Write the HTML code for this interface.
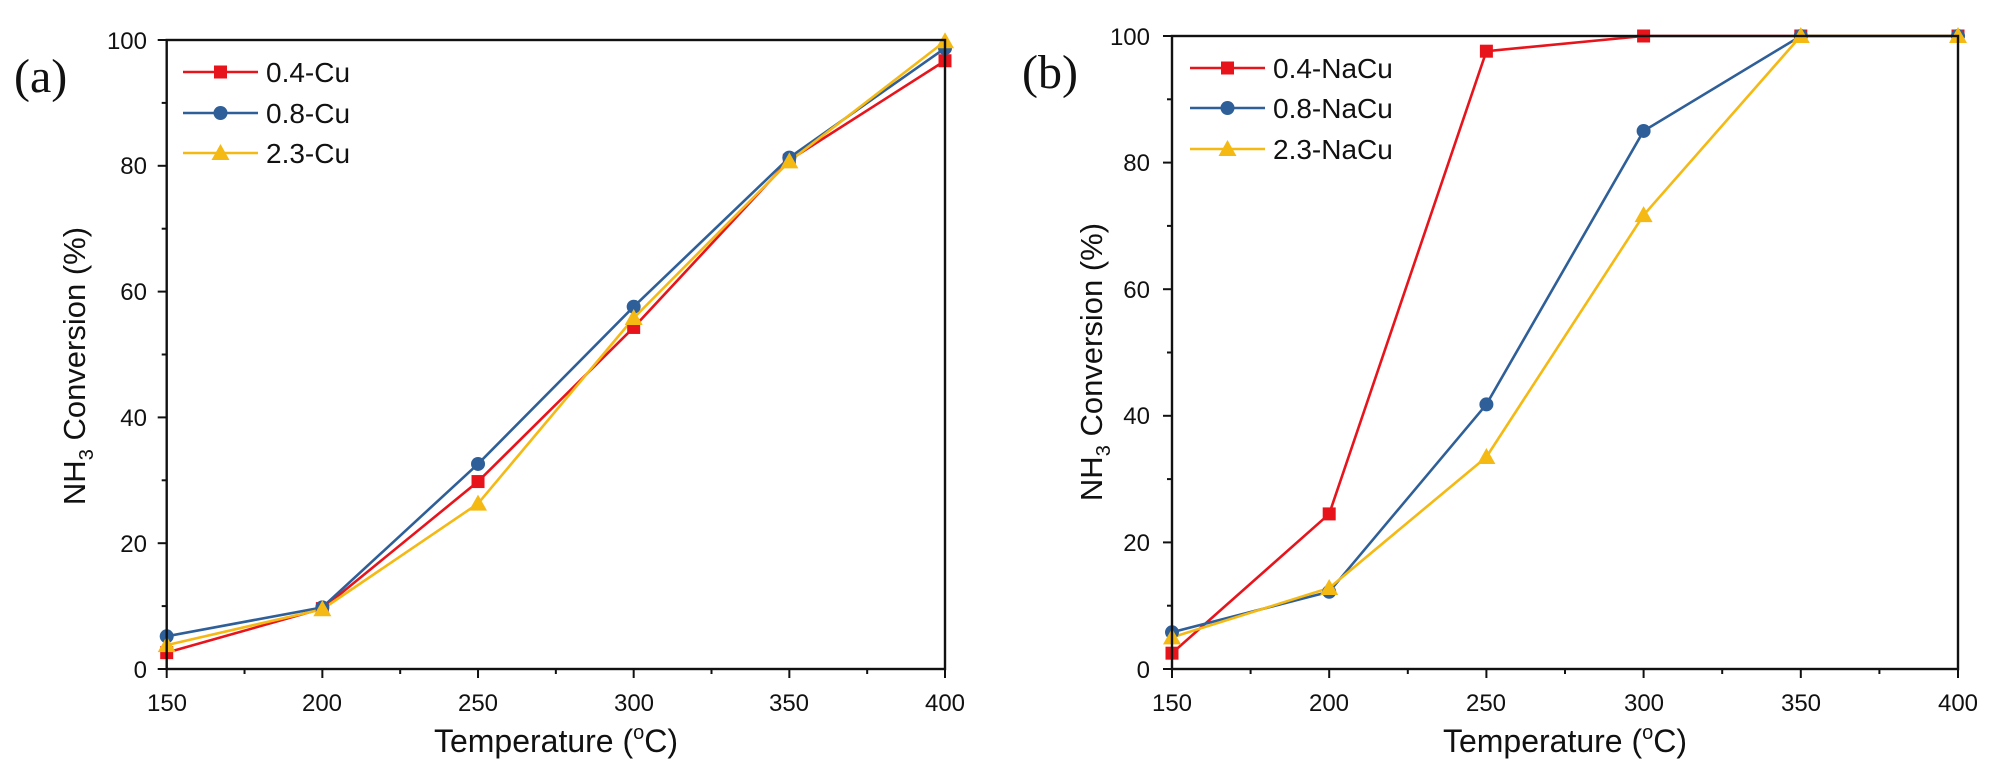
<!DOCTYPE html>
<html><head><meta charset="utf-8">
<style>
html,body{margin:0;padding:0;background:#fff;}
svg{display:block;}
text{font-family:"Liberation Sans",Arial,sans-serif;fill:#111;}
</style></head>
<body>
<svg id="s" width="2000" height="781" viewBox="0 0 2000 781" xmlns="http://www.w3.org/2000/svg">
<rect width="2000" height="781" fill="#fff"/>
<text x="14" y="92" style="font-family:'Liberation Serif',serif;font-size:48px">(a)</text>
<text x="1022" y="88" style="font-family:'Liberation Serif',serif;font-size:48px">(b)</text>

<g font-size="24" text-anchor="end">
<text x="147" y="49">100</text><text x="147" y="174">80</text><text x="147" y="300">60</text>
<text x="147" y="426">40</text><text x="147" y="552">20</text><text x="147" y="678">0</text>
<text x="1150" y="45">100</text><text x="1150" y="171">80</text><text x="1150" y="298">60</text>
<text x="1150" y="424">40</text><text x="1150" y="551">20</text><text x="1150" y="678">0</text>
</g>
<g font-size="24" text-anchor="middle">
<text x="167" y="711">150</text><text x="322" y="711">200</text><text x="478" y="711">250</text>
<text x="634" y="711">300</text><text x="789" y="711">350</text><text x="945" y="711">400</text>
<text x="1172" y="711">150</text><text x="1329" y="711">200</text><text x="1486" y="711">250</text>
<text x="1644" y="711">300</text><text x="1801" y="711">350</text><text x="1958" y="711">400</text>
</g>
<g font-size="32" text-anchor="middle">
<text x="556" y="752">Temperature (<tspan font-size="20" dy="-13">o</tspan><tspan dy="13">C)</tspan></text>
<text x="1565" y="752">Temperature (<tspan font-size="20" dy="-13">o</tspan><tspan dy="13">C)</tspan></text>
</g>
<g font-size="31" text-anchor="middle">
<text transform="translate(85,366) rotate(-90)">NH<tspan font-size="20" dy="8">3</tspan><tspan dy="-8"> Conversion (%)</tspan></text>
<text transform="translate(1102,362) rotate(-90)">NH<tspan font-size="20" dy="8">3</tspan><tspan dy="-8"> Conversion (%)</tspan></text>
</g>
<g font-size="28">
<text x="266" y="82">0.4-Cu</text><text x="266" y="123">0.8-Cu</text><text x="266" y="163">2.3-Cu</text>
<text x="1273" y="78">0.4-NaCu</text><text x="1273" y="118">0.8-NaCu</text><text x="1273" y="159">2.3-NaCu</text>
</g>
<g id="g"></g>
</svg>
<script>
var g=document.getElementById('g'),NS='http://www.w3.org/2000/svg';
function el(t,a){var e=document.createElementNS(NS,t);for(var k in a)e.setAttribute(k,a[k]);g.appendChild(e);return e;}
var C=['#e8141c','#2e5f98','#f5b914'];
function marker(i,x,y){
 if(i==0)el('rect',{x:x-6.5,y:y-6.5,width:13,height:13,fill:C[0]});
 else if(i==1)el('circle',{cx:x,cy:y,r:7,fill:C[1]});
 else el('polygon',{points:(x)+','+(y-9)+' '+(x-9)+','+(y+7)+' '+(x+9)+','+(y+7),fill:C[2]});
}
function panel(L,R,T,B,data,legY,lx1,lx2){
 var X=function(v){return L+(v-150)/250*(R-L)},Y=function(v){return B-v/100*(B-T)};
 var xs=[150,200,250,300,350,400];
 for(var i=0;i<3;i++){
  var pts=xs.map(function(x,j){return X(x)+','+Y(data[i][j])}).join(' ');
  el('polyline',{points:pts,fill:'none',stroke:C[i],'stroke-width':2.6});
 }
 for(var i=0;i<3;i++)xs.forEach(function(x,j){marker(i,X(x),Y(data[i][j]));});
 el('rect',{x:L,y:T,width:R-L,height:B-T,fill:'none',stroke:'#111','stroke-width':2.4});
 for(var v=0;v<=100;v+=10){var y=Y(v);el('line',{x1:L,x2:L-(v%20?5:9),y1:y,y2:y,stroke:'#111','stroke-width':2});}
 for(var x=150;x<=400;x+=25){var xx=X(x);el('line',{x1:xx,x2:xx,y1:B,y2:B+(x%50?5:9),stroke:'#111','stroke-width':2});}
 for(var i=0;i<3;i++){el('line',{x1:lx1,x2:lx2,y1:legY[i],y2:legY[i],stroke:C[i],'stroke-width':2.6});marker(i,(lx1+lx2)/2,legY[i]);}
}
panel(166.7,945,40,669,[[2.6,9.6,29.8,54.3,80.9,96.7],[5.2,9.8,32.6,57.6,81.3,98.7],[3.8,9.5,26.3,55.8,80.7,99.8]],[72,113,153],183,258);
panel(1172,1958,36,669,[[2.5,24.5,97.6,100,100,100],[5.8,12.2,41.8,85,100,100],[5,12.8,33.5,71.7,100,100]],[68,108,149],1190,1265);
</script>
</body></html>
